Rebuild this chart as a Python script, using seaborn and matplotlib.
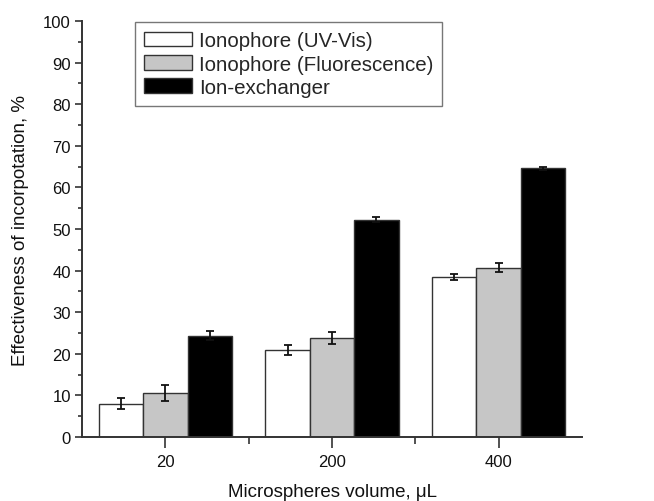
import matplotlib
matplotlib.use("Agg")
import matplotlib.pyplot as plt
import seaborn as sns
import pandas as pd
import numpy as np
from matplotlib.ticker import MultipleLocator, FixedLocator

volumes = ["20", "200", "400"]
series = ["Ionophore (UV-Vis)", "Ionophore (Fluorescence)", "Ion-exchanger"]
uvvis = [8.0, 20.8, 38.5]
fluor = [10.6, 23.8, 40.7]
ionex = [24.3, 52.2, 64.6]
uvvis_err = [1.3, 1.2, 0.8]
fluor_err = [2.0, 1.4, 1.1]
ionex_err = [1.1, 0.6, 0.3]
colors = ["#ffffff", "#c6c6c6", "#000000"]

rows = []
for s, vals, errs in zip(series, [uvvis, fluor, ionex], [uvvis_err, fluor_err, ionex_err]):
    for v, val, e in zip(volumes, vals, errs):
        rows.append({"volume": v, "series": s, "value": val, "err": e})
df = pd.DataFrame(rows)

sns.set_theme(style="ticks")
plt.rcParams["font.family"] = ["Liberation Sans", "DejaVu Sans"]

fig = plt.figure(figsize=(6.54, 5.02), dpi=100)
ax = fig.add_axes([82/654, 64/502, 500/654, 416/502])

sns.barplot(data=df, x="volume", y="value", hue="series", order=volumes,
            hue_order=series, palette=colors, errorbar=None, width=0.8,
            edgecolor="#333333", linewidth=1.0, ax=ax, legend=True)

# error bars at bar centers
for container, s in zip(ax.containers, series):
    sub = df[df.series == s].set_index("volume").loc[volumes]
    xs = [p.get_x() + p.get_width() / 2 for p in container.patches]
    ax.errorbar(xs, sub["value"].values, yerr=sub["err"].values, fmt="none",
                ecolor="#111111", elinewidth=1.3, capsize=2.6, capthick=1.3, zorder=5)

ax.set_xlim(-0.5, 2.5)
ax.set_ylim(0, 100)
ax.yaxis.set_major_locator(MultipleLocator(10))
ax.yaxis.set_minor_locator(MultipleLocator(5))
ax.xaxis.set_minor_locator(FixedLocator([0.5, 1.5]))

for sp in ["top", "right"]:
    ax.spines[sp].set_visible(False)
for sp in ["left", "bottom"]:
    ax.spines[sp].set_color("#333333")
    ax.spines[sp].set_linewidth(1.4)

ax.tick_params(axis="y", which="major", direction="out", length=5, width=1.2,
               color="#333333", labelsize=12, pad=3, labelcolor="#111111")
ax.tick_params(axis="y", which="minor", direction="out", length=3, width=1.2, color="#333333")
ax.tick_params(axis="x", which="major", direction="out", length=8, width=1.2,
               color="#333333", labelsize=12, pad=4, labelcolor="#111111")
ax.tick_params(axis="x", which="minor", direction="out", length=5, width=1.2, color="#333333")

ax.set_xlabel("Microspheres volume, \u03bcL", fontsize=13.5, labelpad=10, color="#111111")
ax.set_ylabel("Effectiveness of incorpotation, %", fontsize=13.5, labelpad=10, color="#111111")

leg = ax.legend(loc="upper left", bbox_to_anchor=(53/500, 0.997), fontsize=14.8,
                frameon=True, fancybox=False, edgecolor="#777777", framealpha=1,
                handlelength=2.3, handleheight=0.7, labelspacing=0.2,
                handletextpad=0.35, borderpad=0.45, borderaxespad=0.0)
leg.get_frame().set_linewidth(1.0)
for h in leg.legend_handles:
    h.set_edgecolor("#333333")
    h.set_linewidth(1.0)

fig.savefig("out.png", dpi=100)
